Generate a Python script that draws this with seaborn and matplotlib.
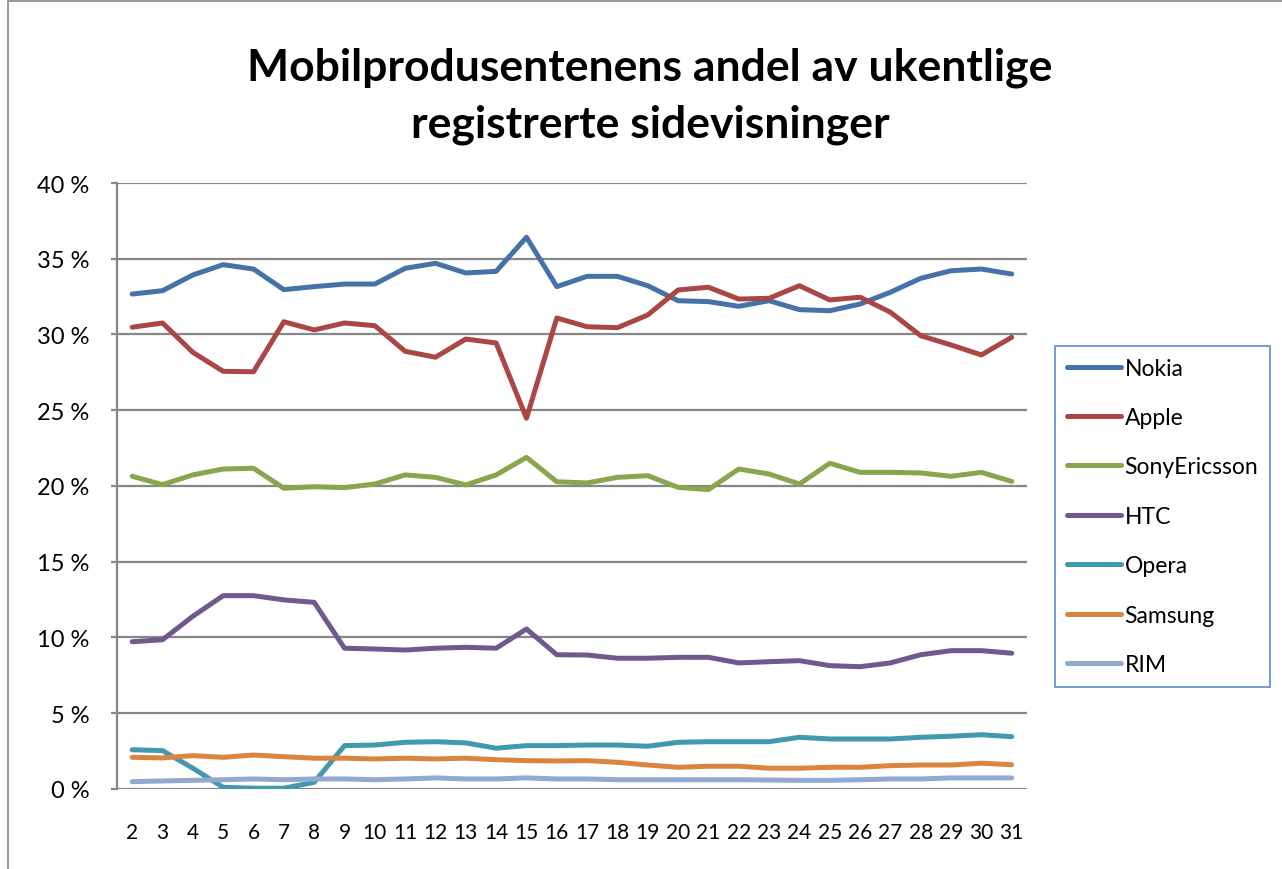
import pandas as pd
import matplotlib.pyplot as plt
import matplotlib.ticker as mticker
from matplotlib.patches import Rectangle
import seaborn as sns

# Weekly share of registered page views per phone maker (percent)
weeks = list(range(2, 32))
nokia = [32.67, 32.89, 33.93, 34.61, 34.32, 32.96, 33.16, 33.33, 33.33, 34.37,
         34.70, 34.06, 34.17, 36.42, 33.16, 33.84, 33.84, 33.22, 32.23, 32.17,
         31.86, 32.23, 31.64, 31.57, 32.01, 32.79, 33.71, 34.21, 34.32, 33.99]
apple = [30.48, 30.76, 28.82, 27.57, 27.54, 30.84, 30.30, 30.76, 30.58, 28.89,
         28.50, 29.70, 29.44, 24.47, 31.09, 30.51, 30.45, 31.29, 32.94, 33.12,
         32.34, 32.39, 33.22, 32.28, 32.46, 31.47, 29.92, 29.31, 28.65, 29.82]
sonyericsson = [20.64, 20.09, 20.73, 21.12, 21.17, 19.85, 19.95, 19.89, 20.13, 20.73,
                20.57, 20.07, 20.73, 21.89, 20.28, 20.20, 20.57, 20.68, 19.91, 19.76,
                21.12, 20.79, 20.13, 21.50, 20.90, 20.90, 20.86, 20.64, 20.90, 20.30]
htc = [9.72, 9.85, 11.40, 12.76, 12.76, 12.48, 12.32, 9.29, 9.24, 9.17,
       9.29, 9.35, 9.29, 10.56, 8.86, 8.84, 8.63, 8.63, 8.69, 8.69,
       8.32, 8.40, 8.47, 8.14, 8.07, 8.32, 8.86, 9.13, 9.13, 8.96]
opera = [2.59, 2.53, 1.37, 0.11, 0.05, 0.05, 0.44, 2.86, 2.90, 3.08,
         3.12, 3.04, 2.69, 2.86, 2.86, 2.90, 2.90, 2.82, 3.08, 3.12,
         3.12, 3.12, 3.41, 3.30, 3.30, 3.30, 3.41, 3.48, 3.58, 3.45]
samsung = [2.09, 2.05, 2.20, 2.09, 2.24, 2.13, 2.03, 2.03, 1.98, 2.03,
           1.98, 2.03, 1.93, 1.87, 1.85, 1.87, 1.76, 1.58, 1.43, 1.50,
           1.50, 1.37, 1.37, 1.43, 1.43, 1.54, 1.58, 1.58, 1.70, 1.60]
rim = [0.48, 0.53, 0.57, 0.61, 0.66, 0.61, 0.66, 0.66, 0.61, 0.66,
       0.73, 0.66, 0.66, 0.73, 0.66, 0.66, 0.61, 0.61, 0.61, 0.61,
       0.61, 0.59, 0.57, 0.57, 0.61, 0.66, 0.66, 0.73, 0.73, 0.73]

makers = ['Nokia', 'Apple', 'SonyEricsson', 'HTC', 'Opera', 'Samsung', 'RIM']
colors = ['#4572A7', '#AA4643', '#89A54E', '#71588F', '#4198AF', '#DB843D', '#93A9CF']
series = [nokia, apple, sonyericsson, htc, opera, samsung, rim]

rows = []
for name, vals in zip(makers, series):
    for w, v in zip(weeks, vals):
        rows.append({'Uke': w, 'Andel': v, 'Produsent': name})
df = pd.DataFrame(rows)

sns.set_theme(style='white')
plt.rcParams['font.family'] = ['Lato', 'DejaVu Sans']
plt.rcParams['text.color'] = 'black'

fig = plt.figure(figsize=(12.82, 8.7), dpi=100)
ax = fig.add_axes([0.0913, 0.092, 0.7097, 0.6965])

sns.lineplot(data=df, x='Uke', y='Andel', hue='Produsent', hue_order=makers,
             palette=colors, linewidth=3.6, ax=ax, legend=True)

ax.set_xlim(1.5, 31.5)
ax.set_ylim(0, 40)
ax.set_yticks(range(0, 41, 5))
ax.set_xticks(weeks)
ax.yaxis.set_major_formatter(mticker.FuncFormatter(lambda v, p: f'{int(v)} %'))
ax.grid(axis='y', color='#878787', linewidth=1.6)
ax.set_axisbelow(True)
ax.set_xlabel('')
ax.set_ylabel('')
for s in ['top', 'right', 'bottom']:
    ax.spines[s].set_visible(False)
ax.spines['left'].set_color('#878787')
ax.spines['left'].set_linewidth(1.6)
ax.tick_params(axis='y', labelsize=17, length=4, width=1.6, color='#878787',
               pad=16, left=True, labelcolor='black')
ax.tick_params(axis='x', labelsize=15, length=0, pad=24, labelcolor='black')

handles, labels = ax.get_legend_handles_labels()
ax.get_legend().remove()
leg = fig.legend(handles, labels, loc='upper left', bbox_to_anchor=(0.823, 0.601),
                 fontsize=16.5, frameon=True, fancybox=False, labelspacing=1.24,
                 handlelength=2.36, handletextpad=0.17, borderpad=0.5, borderaxespad=0,
                 labelcolor='black')
leg.get_frame().set_edgecolor('#4F81BD')
leg.get_frame().set_linewidth(1.4)
for h in leg.get_lines():
    h.set_linewidth(3.6)

fig.text(0.507, 0.889, 'Mobilprodusentenens andel av ukentlige\nregistrerte sidevisninger',
         ha='center', va='center', fontsize=32, fontweight='bold', linespacing=1.5,
         color='black')

# outer chart-area border
fig.patches.append(Rectangle((8 / 1282, -0.01), 1.1, 1 - 2 / 870 + 0.01,
                             transform=fig.transFigure, fill=False,
                             edgecolor='#878787', linewidth=1.2))

fig.savefig('out.png', dpi=100)
